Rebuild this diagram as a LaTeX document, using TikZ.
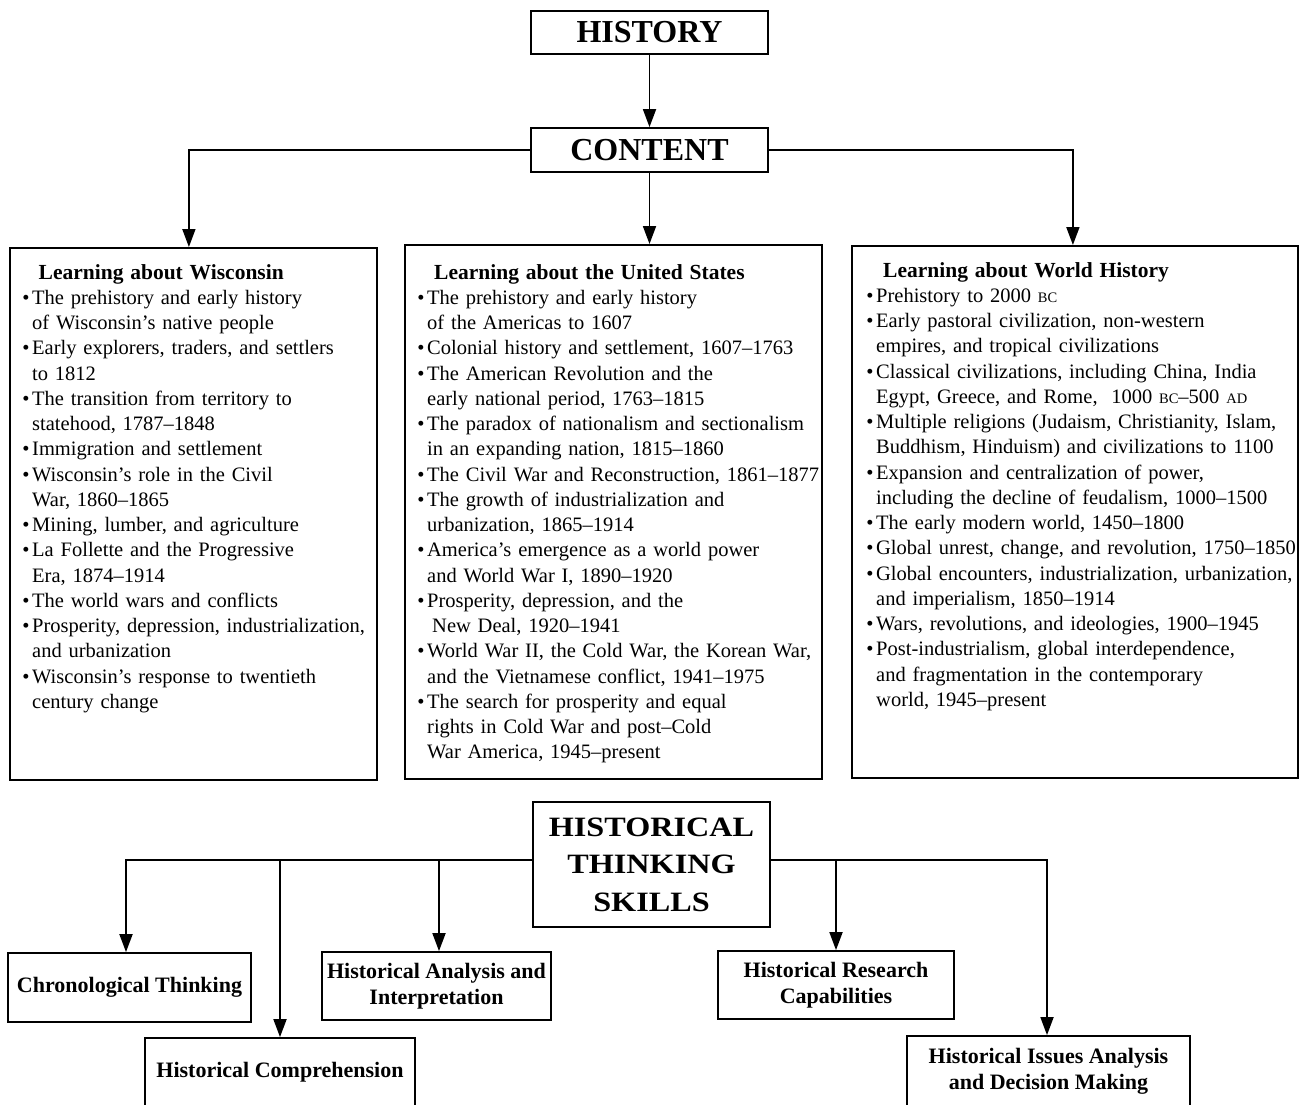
\documentclass[tikz,border=0pt]{standalone}
\usepackage{fontspec}
\setmainfont{Liberation Serif}
\newfontfamily\headfont[FakeStretch=1.15]{Liberation Serif}
\usetikzlibrary{arrows.meta}

% bullet hanging left of the item text
\newcommand{\itm}{\leavevmode\llap{\textbullet\hspace{2.6pt}}}
% reduced capitals for era abbreviations
\newcommand{\era}[1]{{\fontsize{14.5}{14.5}\selectfont #1}}

\tikzset{
  box/.style={draw, line width=1.8pt, inner sep=0pt},
  topbox/.style={box, minimum width=237pt, font=\fontsize{32}{32}\selectfont\bfseries},
  listtext/.style={anchor=base west, text width=470pt, align=left, inner sep=0pt,
                   font=\fontsize{20.5}{25.25}\selectfont},
  skill/.style={box, align=center, font=\fontsize{22}{25.5}\selectfont\bfseries},
  conn/.style={line width=1.8pt, -{Triangle[width=13pt,length=18pt]}}
}

\begin{document}
\begin{tikzpicture}[x=1pt,y=-1pt]
\useasboundingbox (0,0) rectangle (1300,1104);

% ---------- top: history and content ----------
\node[topbox, minimum height=43pt] (history) at (649.5,32.5) {HISTORY};
\node[topbox, minimum height=44pt] (content) at (649.5,150) {CONTENT};

% ---------- the three content areas ----------
\node[box, anchor=north west, minimum width=367pt, minimum height=532pt] (wis) at (9,247) {};
\node[box, anchor=north west, minimum width=417pt, minimum height=534pt] (us) at (404,244) {};
\node[box, anchor=north west, minimum width=446pt, minimum height=532pt] (world) at (851,245) {};

\node[listtext] (wistext) at (32,279) {%
\hspace*{6.5pt}{\fontsize{21.5}{25.25}\selectfont\bfseries Learning about Wisconsin}\\
\itm The prehistory and early history\\
of Wisconsin’s native people\\
\itm Early explorers, traders, and settlers\\
to 1812\\
\itm The transition from territory to\\
statehood, 1787–1848\\
\itm Immigration and settlement\\
\itm Wisconsin’s role in the Civil\\
War, 1860–1865\\
\itm Mining, lumber, and agriculture\\
\itm La Follette and the Progressive\\
Era, 1874–1914\\
\itm The world wars and conflicts\\
\itm Prosperity, depression, industrialization,\\
and urbanization\\
\itm Wisconsin’s response to twentieth\\
century change};

\node[listtext] (ustext) at (427,279) {%
\hspace*{7pt}{\fontsize{21.5}{25.25}\selectfont\bfseries Learning about the United States}\\
\itm The prehistory and early history\\
of the Americas to 1607\\
\itm Colonial history and settlement, 1607–1763\\
\itm The American Revolution and the\\
early national period, 1763–1815\\
\itm The paradox of nationalism and sectionalism\\
in an expanding nation, 1815–1860\\
\itm The Civil War and Reconstruction, 1861–1877\\
\itm The growth of industrialization and\\
urbanization, 1865–1914\\
\itm America’s emergence as a world power\\
and World War I, 1890–1920\\
\itm Prosperity, depression, and the\\
\hspace*{5pt}New Deal, 1920–1941\\
\itm World War II, the Cold War, the Korean War,\\
and the Vietnamese conflict, 1941–1975\\
\itm The search for prosperity and equal\\
rights in Cold War and post–Cold\\
War America, 1945–present};

\node[listtext] (worldtext) at (876,277) {%
\hspace*{7pt}{\fontsize{21.5}{25.25}\selectfont\bfseries Learning about World History}\\
\itm Prehistory to 2000 \era{BC}\\
\itm Early pastoral civilization, non-western\\
empires, and tropical civilizations\\
\itm Classical civilizations, including China, India\\
Egypt, Greece, and Rome,\ \ 1000 \era{BC}–500 \era{AD}\\
\itm Multiple religions (Judaism, Christianity, Islam,\\
Buddhism, Hinduism) and civilizations to 1100\\
\itm Expansion and centralization of power,\\
including the decline of feudalism, 1000–1500\\
\itm The early modern world, 1450–1800\\
\itm Global unrest, change, and revolution, 1750–1850\\
\itm Global encounters, industrialization, urbanization,\\
and imperialism, 1850–1914\\
\itm Wars, revolutions, and ideologies, 1900–1945\\
\itm Post-industrialism, global interdependence,\\
and fragmentation in the contemporary\\
world, 1945–present};

% ---------- connectors from history / content ----------
\draw[conn] (history) -- (content);
\draw[conn] (content.west) -| ([xshift=-4.5pt]wis.north);
\draw[conn] (content.south) -- (content.south |- us.north);
\draw[conn] (content.east) -| ([xshift=-2pt]world.north);

% ---------- historical thinking skills ----------
\node[box, minimum width=237pt, minimum height=125pt, align=center,
      font=\fontsize{28}{37.5}\selectfont\headfont\bfseries] (skills) at (651.5,864.5)
      {HISTORICAL\\THINKING\\SKILLS};

\node[skill, minimum width=243pt, minimum height=69pt] (chrono) at (129.5,987.5) {Chronological Thinking};
\node[skill, minimum width=270pt, minimum height=69pt] (compr) at (280,1072.5) {Historical Comprehension};
\node[skill, minimum width=229pt, minimum height=68pt] (analysis) at (436.5,986) {Historical Analysis and\\Interpretation};
\node[skill, minimum width=236pt, minimum height=68pt] (research) at (836,985) {Historical Research\\Capabilities};
\node[skill, minimum width=283pt, minimum height=71pt] (issues) at (1048.5,1071.5) {Historical Issues Analysis\\and Decision Making};

\draw[conn] ([yshift=4.5pt]skills.west) -| ([xshift=-3.5pt]chrono.north);
\draw[conn] ([yshift=4.5pt]skills.west) -| (compr.north);
\draw[conn] ([yshift=4.5pt]skills.west) -| ([xshift=2.5pt]analysis.north);
\draw[conn] ([yshift=4.5pt]skills.east) -| (research.north);
\draw[conn] ([yshift=4.5pt]skills.east) -| ([xshift=-1.5pt]issues.north);
\end{tikzpicture}
\end{document}
